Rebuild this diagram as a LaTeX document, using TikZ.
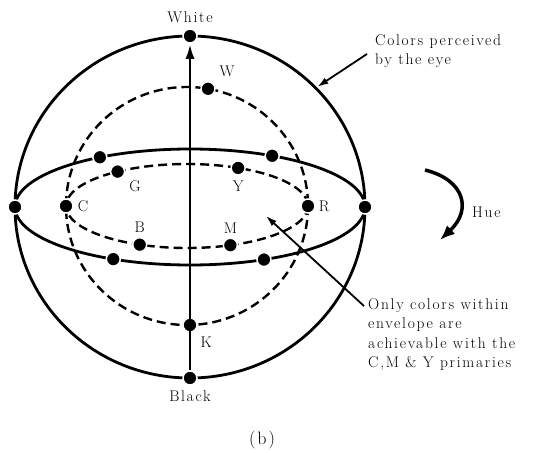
\documentclass[tikz,border=0pt]{standalone}
\usepackage{fontspec}
\usepackage{tikz}
\usetikzlibrary{arrows.meta,positioning,calc}
\newfontfamily\spaced{Latin Modern Roman}[LetterSpace=11]

\begin{document}
\begin{tikzpicture}[x=1pt, y=-1pt,
  every node/.style={font=\spaced\fontsize{15.5}{19.5}\selectfont},
  dot/.style={circle, fill=black, draw=white, line width=1.5pt, inner sep=0pt, minimum size=14pt},
  shell/.style={line width=2.8pt},
  envelope/.style={line width=2.4pt, dash pattern=on 9pt off 5pt},
  axis/.style={-{Latex[length=15pt,width=9pt]}, line width=2.8pt},
  pointer/.style={-{Latex[length=11pt,width=7pt]}, line width=1.8pt},
  turn/.style={-{Latex[length=15pt,width=12pt]}, line width=3.5pt},
  tag/.style={inner sep=1pt},
  callout/.style={align=left, inner sep=0pt}
]
\useasboundingbox (0,0) rectangle (540,452);
\coordinate (eye) at (190,207);
\coordinate (env) at (187,206);

\draw[shell] (eye) ellipse (175 and 171);
\draw[shell] (eye) ellipse (175 and 58);
\draw[envelope] (env) ellipse (121 and 119);
\draw[envelope] (env) ellipse (121 and 42);

\node[dot] (white) at ($(eye)+(-90:175 and 171)$) {};
\node[dot] (black) at ($(eye)+(90:175 and 171)$) {};
\node[dot] (left)  at ($(eye)+(180:175 and 58)$) {};
\node[dot] (right) at ($(eye)+(0:175 and 58)$) {};
\node[dot] (s1) at ($(eye)+(-121:175 and 58)$) {};
\node[dot] (s2) at ($(eye)+(-62:175 and 58)$) {};
\node[dot] (s3) at ($(eye)+(116:175 and 58)$) {};
\node[dot] (s4) at ($(eye)+(65:175 and 58)$) {};

\node[dot] (w) at ($(env)+(-80:121 and 119)$) {};
\coordinate (envbot) at ($(env)+(90:121 and 119)$);
\node[dot] (k) at (white |- envbot) {};
\node[dot] (c) at ($(env)+(180:121 and 42)$) {};
\node[dot] (r) at ($(env)+(0:121 and 42)$) {};
\node[dot] (g) at ($(env)+(-125:121 and 42)$) {};
\node[dot] (y) at ($(env)+(-65:121 and 42)$) {};
\node[dot] (b) at ($(env)+(113:121 and 42)$) {};
\node[dot] (m) at ($(env)+(69:121 and 42)$) {};

\draw[axis] (black) -- (white);

\node[tag, above=4pt of white] {White};
\node[tag, below=4pt of black] {Black};
\node[tag, above right=5pt and 5pt of w] {W};
\node[tag, below right=2pt and 5pt of g] {G};
\node[tag, below=4pt of y] {Y};
\node[tag, right=3pt of c] {C};
\node[tag, right=2pt of r] {R};
\node[tag, above=3pt of b] {B};
\node[tag, above=3pt of m] {M};
\node[tag, below right=5pt and 4pt of k] {K};

\node[callout, anchor=west] (perceived) at (375,51) {Colors perceived\\by the eye};
\coordinate (rim) at ($(eye)+(-44:177 and 173)$);
\draw[pointer] ([xshift=-8pt,yshift=-3pt]perceived.west) -- (rim);

\node[callout, anchor=north west] (only) at (368,298)
  {Only colors within\\envelope are\\achievable with the\\C,M \& Y primaries};
\coordinate (inside) at (266,216);
\draw[pointer] ([xshift=-4pt,yshift=-8pt]only.north west) -- (inside);

\node[tag, anchor=west] (hue) at (471,212) {Hue};
\coordinate (hue1) at (425,170);
\coordinate (hue2) at (440,240);
\draw[turn] (hue1) .. controls (465,180) and (472,210) .. (hue2);

\node[tag, font=\spaced\fontsize{18}{20}\selectfont] (caption) at (262,440) {(b)};
\end{tikzpicture}
\end{document}
